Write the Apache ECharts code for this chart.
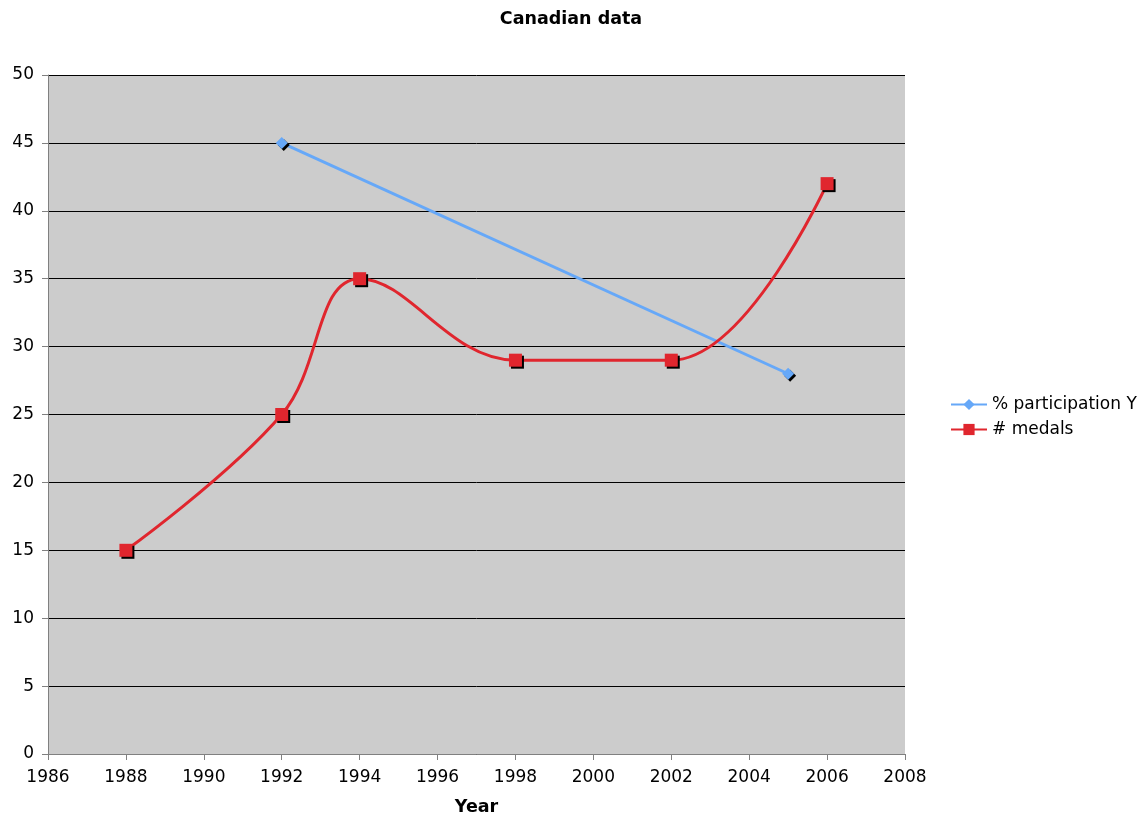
<!DOCTYPE html>
<html>
<head>
<meta charset="utf-8">
<style>
  html, body { margin: 0; padding: 0; background: #fff; }
  #chart { width: 1142px; height: 816px; }
</style>
<script src="https://cdn.jsdelivr.net/npm/echarts@6/dist/echarts.min.js"></script>
</head>
<body>
<div id="chart"></div>
<script>
  const participationYears = [1992, 2005];
  const participationValues = [45, 28];
  const medalYears = [1988, 1992, 1994, 1998, 2002, 2006];
  const medalValues = [15, 25, 35, 29, 29, 42];

  const chart = echarts.init(document.getElementById('chart'));
  const font = 'Verdana, "DejaVu Sans", sans-serif';

  const markerShadow = {
    shadowColor: '#000',
    shadowBlur: 0,
    shadowOffsetX: 2,
    shadowOffsetY: 2
  };

  chart.setOption({
    animation: false,
    title: {
      text: 'Canadian data',
      left: 'center',
      top: 5,
      textStyle: { fontFamily: font, fontSize: 17.5, fontWeight: 'bold', color: '#000' }
    },
    legend: {
      orient: 'vertical',
      left: 945,
      top: 391,
      itemWidth: 36,
      itemHeight: 14,
      itemGap: 8,
      textStyle: { fontFamily: font, fontSize: 17, color: '#000' },
      data: ['% participation Y', '# medals']
    },
    grid: {
      left: 48,
      right: 237,
      top: 75,
      bottom: 62,
      outerBoundsMode: 'none',
      containLabel: false,
      show: true,
      backgroundColor: '#cccccc',
      borderWidth: 0
    },
    xAxis: {
      type: 'value',
      min: 1986,
      max: 2008,
      interval: 2,
      name: 'Year',
      nameLocation: 'middle',
      nameGap: 44,
      nameTextStyle: { fontFamily: font, fontSize: 17.5, fontWeight: 'bold', color: '#000' },
      axisLine: { show: true, lineStyle: { color: '#808080', width: 1 } },
      axisTick: { show: true, length: 6, lineStyle: { color: '#808080' } },
      axisLabel: { fontFamily: font, fontSize: 17, color: '#000', margin: 15, formatter: v => String(v) },
      splitLine: { show: false }
    },
    yAxis: {
      type: 'value',
      min: 0,
      max: 50,
      interval: 5,
      axisLine: { show: true, lineStyle: { color: '#808080', width: 1 } },
      axisTick: { show: true, length: 6, lineStyle: { color: '#808080' } },
      axisLabel: { fontFamily: font, fontSize: 17, color: '#000', margin: 14 },
      splitLine: { show: true, lineStyle: { color: '#000', width: 1 } }
    },
    series: [
      {
        name: '% participation Y',
        type: 'line',
        data: participationYears.map((y, i) => [y, participationValues[i]]),
        symbol: 'diamond',
        symbolSize: 12,
        color: '#66a8f8',
        lineStyle: { color: '#66a8f8', width: 3 },
        itemStyle: Object.assign({ color: '#66a8f8' }, markerShadow)
      },
      {
        name: '# medals',
        type: 'line',
        smooth: 0.4,
        data: medalYears.map((y, i) => [y, medalValues[i]]),
        symbol: 'rect',
        symbolSize: 13,
        color: '#e0262e',
        lineStyle: { color: '#e0262e', width: 3 },
        itemStyle: Object.assign({ color: '#e0262e' }, markerShadow)
      }
    ]
  });
</script>
</body>
</html>
